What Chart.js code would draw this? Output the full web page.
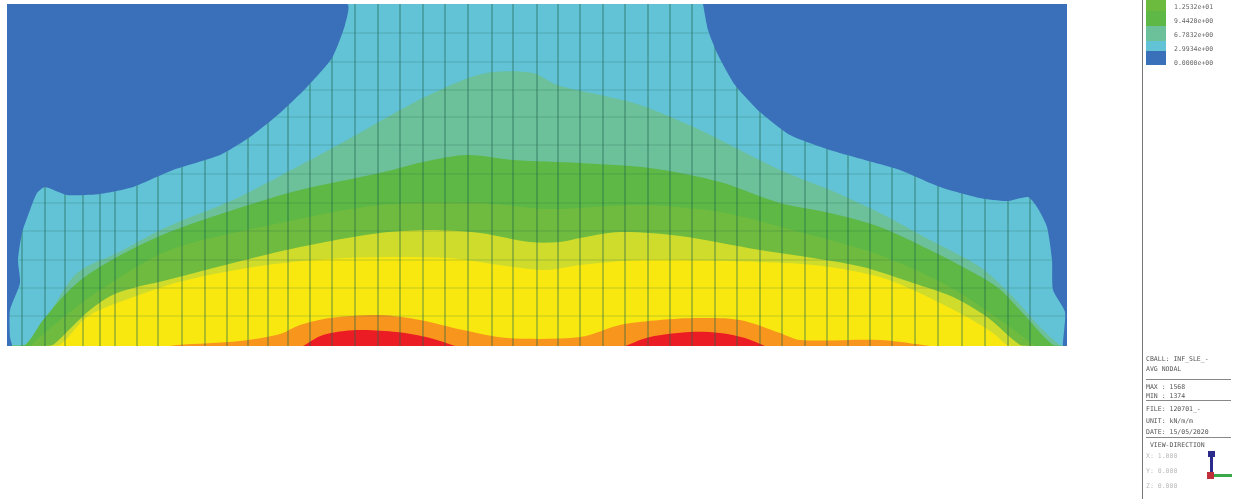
<!DOCTYPE html>
<html>
<head>
<meta charset="utf-8">
<script src="https://cdn.jsdelivr.net/npm/chart.js@4"></script>
<style>
html,body{margin:0;padding:0;background:#fff;width:1237px;height:499px;overflow:hidden}
#wrap{position:absolute;left:0;top:0;width:1237px;height:499px}
#plate{filter:blur(0.7px)}
.t{position:absolute;font-family:"DejaVu Sans Mono",monospace;font-size:6.5px;color:#555;white-space:pre;filter:blur(0.45px)}
</style>
</head>
<body>
<div id="wrap"><canvas id="plate" width="1237" height="499"></canvas></div>
<script>
// position along the plate (x) and depth below top edge (y)
const xMin = 7, xMax = 1067, yMin = 4, yMax = 346;

const meshX = [22,45,65,83,100,115,137,158,182,205,227,248,268,288,310,332,355,378,400,423,445,468,492,513,537,558,580,603,625,648,670,692,715,737,760,782,805,827,848,870,892,915,938,962,985,1008,1030];
const meshY = [33,62,90,117,145,174,203,231,260,288,316];

const tealTop = [[7,345],[25,345],[50,312],[77,273],[117,253],[167,227],[233,200],[280,176],[347,140],[413,103],[463,80],[493,72],[533,73],[557,85],[600,95],[640,105],[700,130],[780,170],[830,190],[880,213],[930,240],[980,267],[1013,297],[1040,327],[1060,345],[1067,346]];
const greenTop = [[7,346],[25,345],[43,320],[77,283],[117,257],[167,233],[233,210],[300,190],[380,173],[423,162],[467,155],[513,160],[580,163],[650,168],[720,182],[780,203],[830,213],[880,227],[930,250],[963,267],[997,287],[1020,310],[1053,345],[1067,346]];
const greenMid = [[30,346],[60,320],[100,290],[170,250],[280,223],[380,205],[480,203],[547,209],[640,205],[720,212],[800,232],[880,255],[950,287],[1000,320],[1035,346]];
const limeTop = [[45,346],[53,345],[90,310],[117,293],[167,280],[233,263],[300,247],[380,233],[430,230],[480,233],[530,242],[560,242],[580,238],[620,232],[680,236],[760,250],[813,258],[863,267],[913,283],[953,297],[987,317],[1020,345],[1030,346]];
const yellowTop = [[50,346],[60,345],[87,317],[117,303],[183,281],[267,265],[347,258],[447,258],[513,267],[547,270],[580,265],[640,260],[760,262],[823,266],[880,277],[913,290],[940,303],[967,317],[993,333],[1007,345],[1015,346]];
const orangeTop = [[170,346],[177,345],[240,341],[280,334],[300,325],[330,318],[380,315],[420,320],[463,330],[507,338],[580,337],[620,325],[660,320],[700,318],[740,320],[780,333],[800,340],[880,340],[923,345],[930,346]];
const redLeft = [[303,346],[323,335],[357,330],[397,332],[430,338],[455,346]];
const redRight = [[625,346],[650,337],[690,332],[720,333],[745,338],[765,346]];
const blueLeft = [[7,4],[347,4],[345,25],[332,58],[307,87],[280,113],[250,137],[220,155],[173,170],[133,187],[100,194],[67,195],[45,187],[37,193],[30,210],[22,233],[18,260],[20,283],[10,310],[10,337],[12,346],[7,346]];
const blueRight = [[703,4],[708,30],[718,55],[735,85],[760,112],[790,135],[830,150],[865,160],[900,170],[940,187],[980,198],[1007,201],[1028,197],[1037,207],[1047,227],[1052,260],[1053,290],[1065,312],[1063,346],[1067,346],[1067,4]];

const legendValues = ['1.2532e+01','9.4420e+00','6.7832e+00','2.9934e+00','0.0000e+00'];
const legendColors = ['#6cbb3f','#5db845','#6cc09a','#62c3d6','#3a6fba'];
const infoLines = ['CBALL: INF_SLE_-','AVG NODAL','MAX : 1568','MIN : 1374','FILE: 120701_-','UNIT: kN/m/m','DATE: 15/05/2020',' VIEW-DIRECTION'];
const viewLines = ['X: 1.000','Y: 0.000','Z: 0.000'];

const toPts = a => a.map(p => ({x: p[0], y: p[1]}));

// one broken polyline, nulls make the breaks
const meshPts = [];
meshX.forEach(x => { meshPts.push({x: x, y: yMin}, {x: x, y: yMax}, {x: x, y: null}); });
meshY.forEach(y => { meshPts.push({x: xMin, y: y}, {x: xMax, y: y}, {x: null, y: null}); });

const band = (pts, color) => ({data: toPts(pts), backgroundColor: color, borderWidth: 0, fill: {value: yMax}, tension: 0.3, pointRadius: 0, showLine: true});
const patch = (pts, color) => ({data: toPts(pts), backgroundColor: color, borderWidth: 0, fill: 'shape', tension: 0.2, pointRadius: 0, showLine: true});

// bottom layer first, order is set below so later ones paint on top
const layers = [
  band([[xMin,yMin],[xMax,yMin]], '#62c3d6'),
  band(tealTop, '#6cc09a'),
  band(greenTop, '#5db845'),
  band(greenMid, '#6fbb3f'),
  band(limeTop, '#cfdc2c'),
  band(yellowTop, '#f8e80f'),
  band(orangeTop, '#f8951d'),
  band(redLeft, '#ec1c24'),
  band(redRight, '#ec1c24'),
  {data: meshPts, borderColor: 'rgba(30,100,80,0.26)', borderWidth: 1, fill: false, pointRadius: 0, showLine: true, spanGaps: false, tension: 0},
  patch(blueLeft, '#3a6fba'),
  patch(blueRight, '#3a6fba')
];
layers.forEach((d, i) => { d.order = layers.length - i; });

new Chart(document.getElementById('plate').getContext('2d'), {
  type: 'scatter',
  data: {datasets: layers},
  options: {
    responsive: false,
    animation: false,
    layout: {padding: {left: xMin, right: 1237 - xMax, top: yMin, bottom: 499 - yMax}},
    plugins: {legend: {display: false}, tooltip: {enabled: false}},
    scales: {
      x: {type: 'linear', min: xMin, max: xMax, display: false},
      y: {type: 'linear', min: yMin, max: yMax, reverse: true, display: false}
    }
  }
});

// side panel
const wrap = document.getElementById('wrap');
function addText(s, x, y, color) {
  const d = document.createElement('div');
  d.className = 't';
  d.textContent = s;
  d.style.left = x + 'px';
  d.style.top = y + 'px';
  if (color) d.style.color = color;
  wrap.appendChild(d);
}
function addBox(x, y, w, h, color) {
  const d = document.createElement('div');
  d.style.cssText = 'position:absolute;left:' + x + 'px;top:' + y + 'px;width:' + w + 'px;height:' + h + 'px;background:' + color;
  wrap.appendChild(d);
}
addBox(1142, 0, 1, 499, '#777');
const swatchTop = [0, 11, 26, 41, 51];
const swatchBottom = [11, 26, 41, 51, 65];
legendValues.forEach((v, i) => {
  addBox(1146, swatchTop[i], 20, swatchBottom[i] - swatchTop[i], legendColors[i]);
  addText(v, 1174, 3 + i * 14, '#666');
});
const infoY = [355, 365, 383, 392, 405, 417, 428, 441];
infoLines.forEach((s, i) => addText(s, 1146, infoY[i]));
[379, 400, 437].forEach(y => addBox(1146, y, 85, 1, '#888'));
viewLines.forEach((s, i) => addText(s, 1146, 452 + i * 15, '#bbb'));
// view triad
addBox(1210, 456, 3, 17, '#2b2b8c');
addBox(1208, 451, 7, 6, '#2b2b8c');
addBox(1214, 474, 18, 3, '#3aa84a');
addBox(1207, 472, 7, 7, '#c0303a');
</script>
</body>
</html>
